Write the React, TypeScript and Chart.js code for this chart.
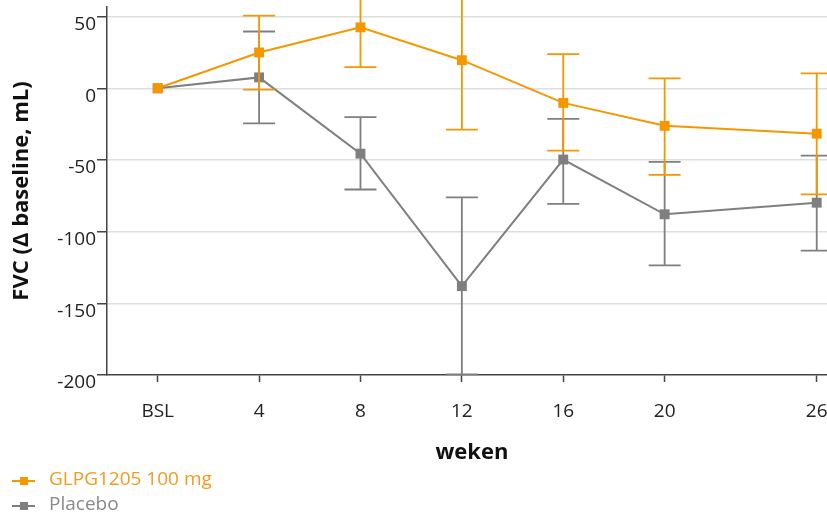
import React, { useEffect, useRef } from 'react';
import { Chart, registerables } from 'chart.js';

Chart.register(...registerables);

// ---- data ----
const weeks = [0, 4, 8, 12, 16, 20, 26];
const weekLabels = ['BSL', '4', '8', '12', '16', '20', '26'];
const yTickValues = [-200, -150, -100, -50, 0, 50];
const seriesNames = ['GLPG1205 100 mg', 'Placebo'];
const seriesColors = ['#F49700', '#7F7F7F'];

const glpgMean = [0, 25, 42.5, 19.6, -10.2, -26.2, -31.7];
const glpgUpper = [null, 50.7, 70, 68, 23.8, 6.9, 10.4];
const glpgLower = [null, -0.9, 14.8, -28.9, -43.5, -60.4, -74];

const placeboMean = [0, 7.6, -45.6, -138, -49.7, -87.9, -79.8];
const placeboUpper = [null, 39.6, -20.1, -76.1, -21.3, -51.4, -47];
const placeboLower = [null, -24.5, -70.6, -199.5, -80.7, -123.5, -113.3];

const means = [glpgMean, placeboMean];
const uppers = [glpgUpper, placeboUpper];
const lowers = [glpgLower, placeboLower];

const FONT = "'Open Sans', sans-serif";

const errorBarPlugin = {
  id: 'errorBars',
  beforeDatasetDraw(chart: any, args: any) {
    const i = args.index;
    const up = uppers[i];
    const lo = lowers[i];
    const xs = chart.scales.x;
    const ys = chart.scales.y;
    const ctx = chart.ctx;
    ctx.save();
    ctx.strokeStyle = seriesColors[i];
    ctx.lineWidth = 1.8;
    for (let k = 0; k < weeks.length; k++) {
      if (up[k] == null || lo[k] == null) continue;
      const px = xs.getPixelForValue(weeks[k]);
      const pu = ys.getPixelForValue(up[k]);
      const pl = ys.getPixelForValue(lo[k]);
      ctx.beginPath();
      ctx.moveTo(px, pu);
      ctx.lineTo(px, pl);
      ctx.moveTo(px - 16, pu);
      ctx.lineTo(px + 16, pu);
      ctx.moveTo(px - 16, pl);
      ctx.lineTo(px + 16, pl);
      ctx.stroke();
    }
    ctx.restore();
  },
};

function LegendIcon({ color }: { color: string }) {
  return (
    <span style={{ position: 'absolute', left: 12, top: -1, width: 23, height: 8 }}>
      <span style={{ position: 'absolute', left: 0, top: 3, width: 23, height: 2, background: color }} />
      <span style={{ position: 'absolute', left: 7.5, top: 0, width: 8, height: 8, background: color }} />
    </span>
  );
}

export default function App() {
  const ref = useRef<HTMLCanvasElement | null>(null);

  useEffect(() => {
    if (!ref.current) return;
    Chart.defaults.font.family = FONT;
    const datasets = seriesNames.map((name, i) => ({
      label: name,
      data: weeks.map((w, k) => ({ x: w, y: means[i][k] })),
      borderColor: seriesColors[i],
      backgroundColor: seriesColors[i],
      borderWidth: 2,
      pointStyle: 'rect',
      pointRadius: 7,
      pointHoverRadius: 7,
      pointBorderWidth: 0,
      tension: 0,
    }));
    const chart = new Chart(ref.current, {
      type: 'line',
      data: { datasets },
      plugins: [errorBarPlugin],
      options: {
        animation: false,
        responsive: false,
        layout: { padding: { top: 1.6, left: 0, right: 0, bottom: 0 } },
        plugins: { legend: { display: false }, tooltip: { enabled: false } },
        scales: {
          x: {
            type: 'linear',
            min: -2,
            max: 26.8,
            afterBuildTicks: (scale: any) => {
              scale.ticks = weeks.map((v) => ({ value: v }));
            },
            afterFit: (scale: any) => {
              scale.height = 105;
              scale.paddingLeft = 0;
              scale.paddingRight = 0;
              scale.paddingTop = 0;
              scale.paddingBottom = 0;
            },
            ticks: {
              autoSkip: false,
              maxRotation: 0,
              padding: 18,
              color: '#222',
              font: { size: 19, family: FONT },
              callback: (v: any) => {
                const idx = weeks.indexOf(Number(v));
                return idx >= 0 ? weekLabels[idx] : '';
              },
            },
            grid: {
              drawOnChartArea: false,
              drawTicks: true,
              tickLength: 7,
              tickColor: '#444',
              tickWidth: 1.5,
            },
            border: { color: '#444', width: 1.5 },
            title: {
              display: true,
              text: 'weken',
              color: '#111',
              font: { size: 22, weight: 'bold', family: FONT, lineHeight: 1.2 },
              padding: { top: 0, bottom: 14 },
            },
          },
          y: {
            type: 'linear',
            min: -200,
            max: 56.7,
            afterBuildTicks: (scale: any) => {
              scale.ticks = yTickValues.map((v) => ({ value: v }));
            },
            afterFit: (scale: any) => {
              scale.width = 107;
              scale.paddingLeft = 0;
              scale.paddingRight = 0;
              scale.paddingTop = 0;
              scale.paddingBottom = 0;
            },
            ticks: {
              padding: 1,
              labelOffset: 8,
              color: '#222',
              font: { size: 19, family: FONT },
            },
            grid: {
              color: (c: any) => (c.tick && c.tick.value === -200 ? 'rgba(0,0,0,0)' : '#dedede'),
              lineWidth: 1.5,
              drawTicks: true,
              tickLength: 10,
              tickColor: '#444',
              tickWidth: 1.5,
            },
            border: { color: '#444', width: 1.5 },
            title: {
              display: true,
              text: 'FVC (Δ baseline, mL)',
              color: '#111',
              font: { size: 22, weight: 'bold', family: FONT, lineHeight: 1.2 },
              padding: { top: 9, bottom: 0 },
            },
          },
        },
      } as any,
    });
    return () => chart.destroy();
  }, []);

  return (
    <div
      style={{
        position: 'fixed',
        left: 0,
        top: 0,
        width: 827,
        height: 516,
        overflow: 'hidden',
        background: '#fff',
      }}
    >
      <canvas ref={ref} width={844} height={480} style={{ display: 'block', position: 'absolute', left: 0, top: 0 }} />
      {seriesNames.map((name, i) => (
        <div
          key={name}
          style={{
            position: 'absolute',
            left: 0,
            top: 466 + i * 25,
            height: 25,
            width: 400,
            fontFamily: FONT,
            fontSize: 19,
            lineHeight: '25px',
            color: i === 0 ? '#F39A1E' : '#8A8A8A',
          }}
        >
          <span style={{ position: 'absolute', left: 0, top: 12, width: 40, height: 8 }}>
            <LegendIcon color={seriesColors[i]} />
          </span>
          <span style={{ position: 'absolute', left: 49, top: 0, whiteSpace: 'nowrap' }}>{name}</span>
        </div>
      ))}
    </div>
  );
}
